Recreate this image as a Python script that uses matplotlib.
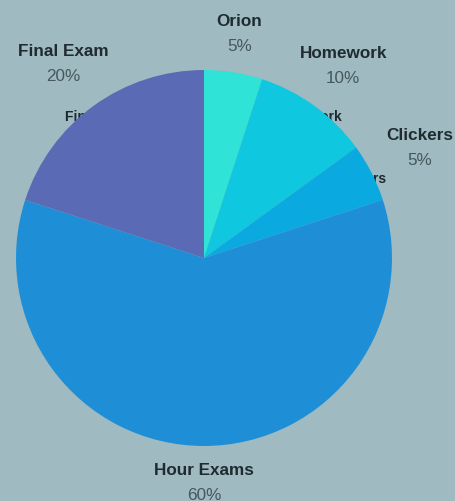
import numpy as np
import matplotlib
matplotlib.use("Agg")
import matplotlib.pyplot as plt

categories = ["Orion", "Homework", "Clickers", "Hour Exams", "Final Exam"]
values = [5, 10, 5, 60, 20]
pct_labels = ["5%", "10%", "5%", "60%", "20%"]

colors = ["#2fe3d6", "#0fc7df", "#0aa9e0", "#1e8fd6", "#5a6ab5"]
bg = "#9fbac0"
outer_dist = {"Orion": 1.205, "Homework": 1.26, "Clickers": 1.29,
              "Hour Exams": 1.195, "Final Exam": 1.275}

plt.rcParams['font.family'] = ['Liberation Sans', 'DejaVu Sans']

W, H = 456, 501
fig = plt.figure(figsize=(W / 100, H / 100), dpi=100, facecolor=bg)
ax = fig.add_axes([0, 0, 1, 1])
ax.set_facecolor(bg)

cx, cy, R = 204, 258, 188
wedges, _ = ax.pie(values, colors=colors, startangle=90, counterclock=False,
                   radius=1.0, wedgeprops=dict(linewidth=0, zorder=2))
ax.set_aspect('auto')
ax.set_xlim(-cx / R, (W - cx) / R)
ax.set_ylim(-(H - cy) / R, cy / R)
ax.axis('off')

g = 12.5 / R
for w, name, pct in zip(wedges, categories, pct_labels):
    mid = np.deg2rad((w.theta1 + w.theta2) / 2)
    # inner labels, hidden behind the pie
    ax.text(0.93 * np.cos(mid), 0.93 * np.sin(mid), name, ha='center', va='center',
            fontsize=10, fontweight='bold', color='#1c2a30', zorder=1)
    d = outer_dist[name]
    x, y = d * np.cos(mid), d * np.sin(mid)
    ax.text(x, y + g, name, ha='center', va='center', fontsize=12.3,
            fontweight='bold', color='#1f2b31', zorder=3)
    ax.text(x, y - g, pct, ha='center', va='center', fontsize=12.3,
            color='#46575d', zorder=3)

fig.savefig("out.png", dpi=100, facecolor=bg)
